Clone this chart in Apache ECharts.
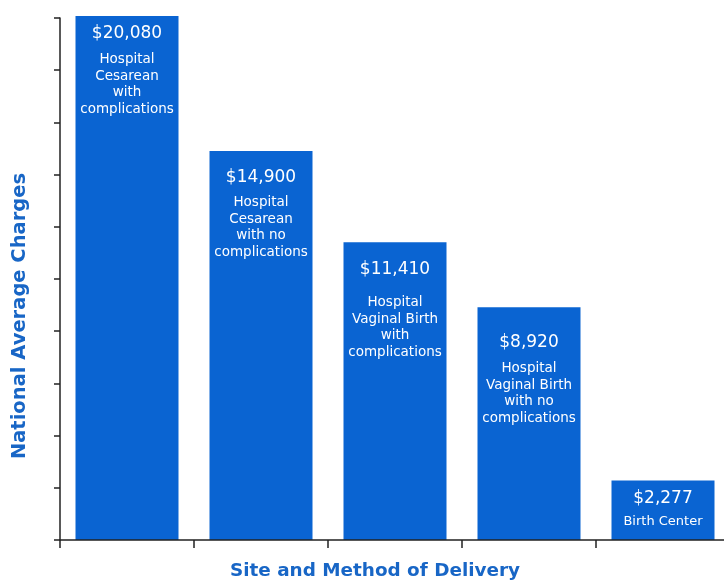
<!DOCTYPE html>
<html>
<head>
<meta charset="utf-8">
<script src="https://cdn.jsdelivr.net/npm/echarts@6/dist/echarts.min.js"></script>
<style>
html,body{margin:0;padding:0;background:#fff;}
#chart{width:724px;height:580px;}
</style>
</head>
<body>
<div id="chart"></div>
<script>
// ---- data ----
const categories = [
  'Hospital\nCesarean\nwith\ncomplications',
  'Hospital\nCesarean\nwith no\ncomplications',
  'Hospital\nVaginal Birth\nwith\ncomplications',
  'Hospital\nVaginal Birth\nwith no\ncomplications',
  'Birth Center'
];
const charges = [20080, 14900, 11410, 8920, 2277];
const yTicks = [0, 2000, 4000, 6000, 8000, 10000, 12000, 14000, 16000, 18000, 20000];

// ---- label layout (styling only) ----
const labelDistance = [0, 10, 3, 18, 3];
const valueLineHeight = [35.5, 33.5, 49.5, 35.5, 29.5];
const descFontSize = [13.5, 13.5, 13.5, 13.5, 13];

const BLUE = '#0a64d2';
const TITLE_BLUE = '#1866c6';

const fmt = v => '$' + v.toLocaleString('en-US');

const seriesData = charges.map((v, i) => ({
  value: v,
  label: {
    distance: labelDistance[i],
    rich: {
      v: { fontSize: 17, lineHeight: valueLineHeight[i], color: '#fff', fontFamily: 'DejaVu Sans', align: 'center' },
      d: { fontSize: descFontSize[i], lineHeight: 16.5, color: '#fff', fontFamily: 'DejaVu Sans', align: 'center' }
    }
  }
}));

const chart = echarts.init(document.getElementById('chart'), null, { renderer: 'canvas' });
chart.setOption({
  animation: false,
  backgroundColor: '#fff',
  grid: { left: 60, top: 18, width: 670, bottom: 40, containLabel: false, outerBoundsMode: 'none' },
  xAxis: {
    type: 'category',
    data: categories,
    boundaryGap: true,
    z: 5,
    axisLine: { lineStyle: { color: '#222', width: 1.5 } },
    axisTick: { show: true, length: 8, lineStyle: { color: '#222', width: 1.5 } },
    axisLabel: { show: false }
  },
  yAxis: {
    type: 'value',
    min: yTicks[0],
    max: yTicks[yTicks.length - 1],
    interval: yTicks[1] - yTicks[0],
    z: 5,
    axisLine: { show: true, lineStyle: { color: '#222', width: 1.5 } },
    axisTick: { show: true, length: 6, lineStyle: { color: '#222', width: 1.5 } },
    axisLabel: { show: false },
    splitLine: { show: false }
  },
  series: [{
    type: 'bar',
    data: seriesData,
    barWidth: 103,
    clip: false,
    itemStyle: { color: BLUE },
    z: 1,
    label: {
      show: true,
      position: 'insideTop',
      formatter: p => '{v|' + fmt(p.value) + '}\n' +
        categories[p.dataIndex].split('\n').map(s => '{d|' + s + '}').join('\n')
    }
  }],
  graphic: [
    {
      type: 'text', x: 20, y: 316, rotation: Math.PI / 2,
      style: {
        text: 'National Average Charges',
        font: 'bold 19.5px "DejaVu Sans", Verdana, sans-serif',
        fill: TITLE_BLUE, align: 'center', verticalAlign: 'middle'
      }
    },
    {
      type: 'text', x: 375, y: 571,
      style: {
        text: 'Site and Method of Delivery',
        font: 'bold 18.4px "DejaVu Sans", Verdana, sans-serif',
        fill: TITLE_BLUE, align: 'center', verticalAlign: 'middle'
      }
    }
  ]
});
</script>
</body>
</html>
